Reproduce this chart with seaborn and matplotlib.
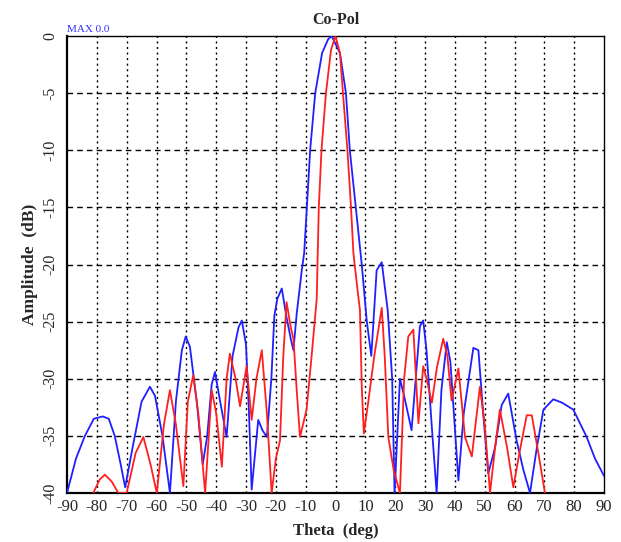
import numpy as np
import pandas as pd
import matplotlib
matplotlib.use("Agg")
import matplotlib.pyplot as plt
import seaborn as sns

blue_theta = [-90, -87, -84, -81, -78, -76, -74, -72, -70.5, -68, -65, -62.2, -60.5, -58, -55.5,
              -53.5, -51.5, -50.2, -48.8, -46.5, -44.5, -43, -41.5, -40.4, -39, -36.5, -34.5, -32.5,
              -31.4, -30, -29, -28.1, -25.9, -24.5, -23, -21.5, -20.5, -19.5, -18, -16.5, -15, -14.1,
              -13, -11.3, -10.5, -9.6, -8.5, -6.8, -4.5, -2.5, -1.3, 1.5, 3.5, 4.8, 6.8, 8.8, 10.5, 12,
              13.8, 15.5, 17.5, 19, 19.8, 21.6, 23, 25.5, 28.3, 29.4, 30.5, 32.5, 33.9, 35.5, 37.3,
              38.5, 41.2, 43, 46.2, 47.9, 49.5, 51.2, 53.5, 55.7, 57.9, 60.7, 63, 65.2, 67.5, 69.7,
              73, 76, 79.7, 84.2, 87, 90]
blue_db = [-40, -37, -35, -33.5, -33.3, -33.5, -35, -37.5, -39.5, -36, -32, -30.7, -31.5, -35, -40,
           -32, -27.5, -26.3, -27.2, -32, -37.5, -35, -30.5, -29.4, -31.5, -35.1, -28, -25.5,
           -24.9, -27, -33, -39.7, -33.6, -34.5, -35.1, -30, -24.5, -23, -22.1, -24.5, -26.5, -27.5,
           -24.3, -20.5, -19, -15, -10, -5, -1.5, -0.3, 0, -1.5, -5, -10, -15, -20, -25, -28,
           -20.5, -19.8, -24, -30, -40, -30, -31.5, -34.5, -25.4, -24.9, -27.5, -35, -40, -31, -26.8,
           -28.5, -38.9, -33, -27.3, -27.5, -33, -38.3, -36, -32.3, -31.3, -35.4, -38, -40, -36, -32.7,
           -31.8, -32.1, -32.7, -35.1, -37, -38.5]

red_theta = [-81.2, -79, -77.3, -75, -72.8, -70, -67, -64.4, -62, -59.9, -57.5, -55.5, -53.5, -51,
             -49.5, -47.7, -46, -43.7, -41.5, -40, -38.1, -36.5, -35.4, -33.5, -32, -29.8, -28.1,
             -26.5, -24.7, -23, -21.4, -20, -18.6, -17.5, -16.4, -15, -14.1, -13, -11.9, -9.7, -8,
             -6.3, -5.6, -4.7, -3.2, -1.5, 0, 1.5, 2.5, 4, 5.2, 6, 7.5, 8.2, 8.8, 9.5, 11, 13,
             15.5, 16.5, 17.7, 19.5, 21.6, 23, 24.4, 26.1, 27.8, 29.4, 30.5, 32.3, 34, 36.1, 37.5,
             38.9, 41.2, 43.4, 45.7, 48.4, 50, 51.8, 53.5, 55.1, 57.5, 59.6, 62, 64.1, 65.8, 68, 70.2]
red_db = [-40, -38.8, -38.4, -39, -40, -40, -36.5, -35.1, -37.5, -40, -34, -31, -34, -39.4,
          -32, -29.7, -33, -40, -31, -33, -37.7, -30, -27.8, -30, -32.4, -28.9, -33.6,
          -30, -27.5, -33, -40, -37, -35.4, -28, -23.3, -25.5, -26.5, -31, -35.1, -32.7, -28,
          -23, -15, -10, -5, -1.2, 0, -1.5, -5, -10, -15, -19, -22.5, -24, -30.7, -34.8, -32, -28,
          -23.8, -28, -35.1, -38, -40, -30, -26.3, -25.7, -33.9, -28.9, -30, -32.1, -29, -26.5, -28,
          -31.9, -29.1, -35.1, -36.8, -30.7, -34, -40, -36, -32.7, -36, -39.5, -36, -33.2, -33.2, -36.5, -40]

x_ticks = list(range(-90, 91, 10))
y_ticks = list(range(-40, 1, 5))

df = pd.concat([
    pd.DataFrame({"theta": blue_theta, "amp": blue_db, "series": "blue"}),
    pd.DataFrame({"theta": red_theta, "amp": red_db, "series": "red"}),
])

sns.set_style("white")
serif = ["Liberation Serif", "DejaVu Serif"]
plt.rcParams["font.family"] = serif

fig = plt.figure(figsize=(6.21, 5.42), dpi=100)
ax = fig.add_axes([67 / 621, 1 - 493 / 542, (604 - 67) / 621, (493 - 36) / 542])

sns.lineplot(data=df, x="theta", y="amp", hue="series",
             palette={"blue": "#1f1fff", "red": "#ff1f1f"},
             estimator=None, sort=False, linewidth=1.3, legend=False, ax=ax, zorder=3)

ax.set_xlim(-90, 90)
ax.set_ylim(-40, 0)
ax.set_xticks(x_ticks)
ax.set_yticks(y_ticks)
ax.set_xticklabels([str(t) for t in x_ticks], fontsize=12)
ax.set_yticklabels([str(t) for t in y_ticks], fontsize=11.5, rotation=90, va="center")
ax.tick_params(axis="both", length=0, pad=4)
ax.tick_params(axis="y", pad=6)

for t in x_ticks[1:-1]:
    ax.axvline(t, color="black", linestyle=(0, (1.5, 2.5)), linewidth=1.0, zorder=1)
for t in y_ticks[1:-1]:
    ax.axhline(t, color="black", linestyle=(0, (4, 3)), linewidth=1.0, zorder=1)

for s in ax.spines.values():
    s.set_color("black")
    s.set_linewidth(1.0)
ax.spines["left"].set_linewidth(1.6)
ax.spines["bottom"].set_linewidth(1.6)

ax.set_xlabel("Theta  (deg)", fontsize=12, fontweight="bold", labelpad=6)
ax.set_ylabel("Amplitude  (dB)", fontsize=12.5, fontweight="bold", labelpad=3)
ax.set_title("Co-Pol", fontsize=11.5, fontweight="bold", pad=9)
ax.text(0.0, 1.005, "MAX 0.0", transform=ax.transAxes, color="#3030ff",
        fontsize=8, ha="left", va="bottom")

fig.savefig("out.png", dpi=100)
